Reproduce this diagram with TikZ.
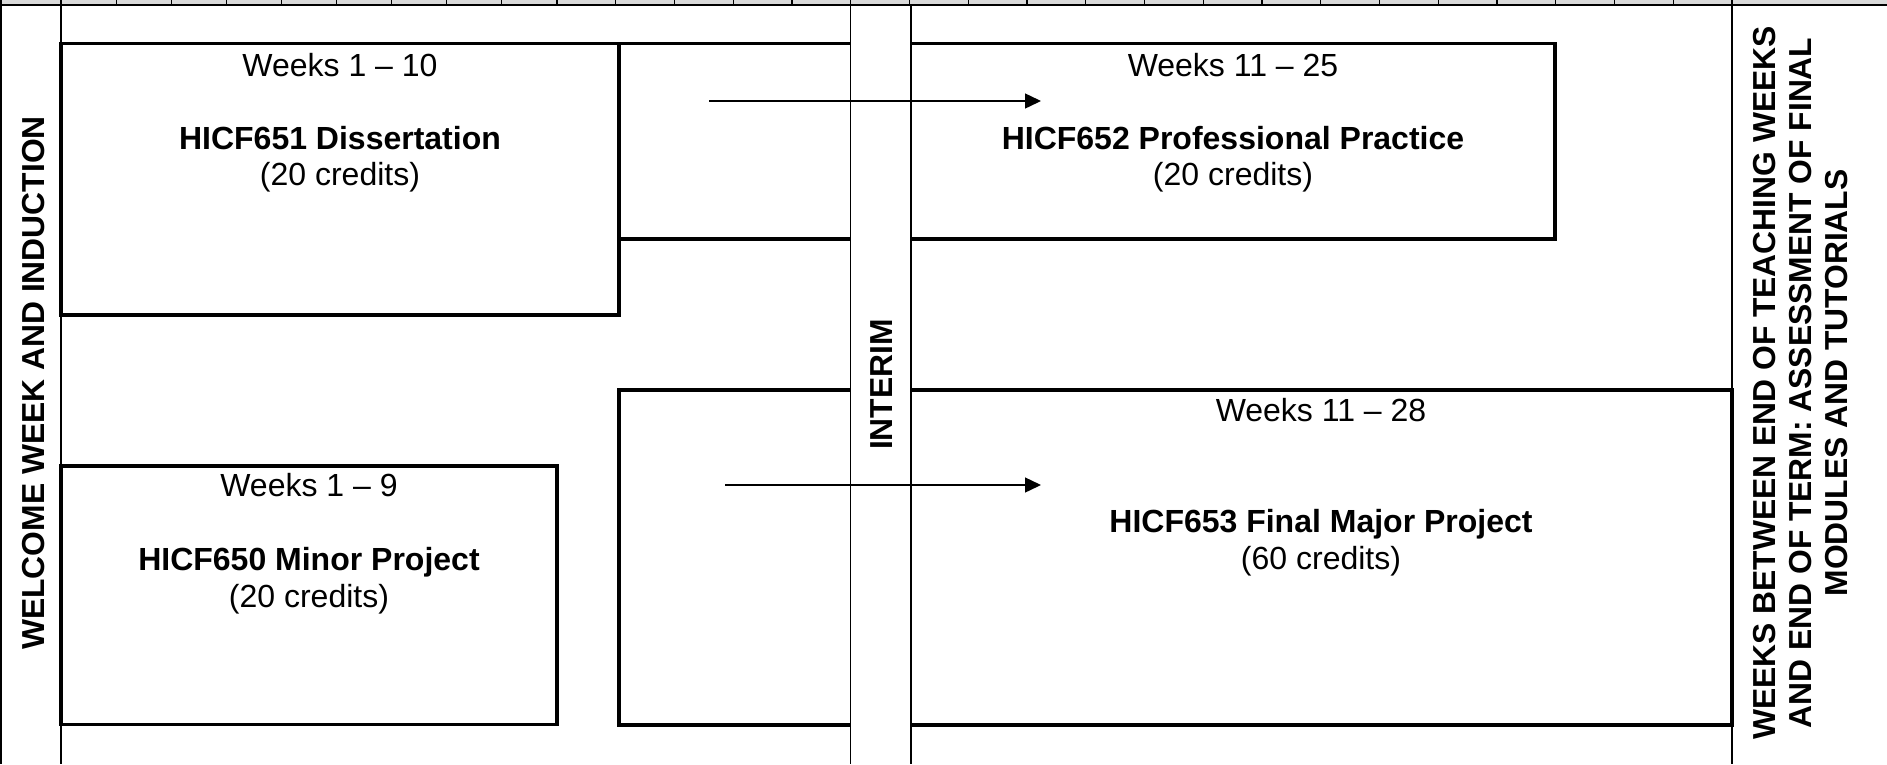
\documentclass[tikz,border=0pt]{standalone}
\usepackage{fontspec}
\setmainfont{Liberation Sans}
\usetikzlibrary{arrows.meta}
\definecolor{rulergrey}{RGB}{217,217,217}
\begin{document}
\begin{tikzpicture}[x=1pt,y=-1pt,
  thickln/.style={line width=3.3pt},
  thinln/.style={line width=1.5pt},
  tickln/.style={line width=1.1pt},
  lbl/.style={inner sep=0pt, anchor=base, font=\fontsize{32}{36}\selectfont},
  ttl/.style={lbl, font=\fontsize{32}{36}\selectfont\bfseries},
  vlbl/.style={inner sep=0pt, rotate=90, align=center, font=\fontsize{31.8}{36}\selectfont\bfseries},
  arr/.style={line width=1.4pt, -{Triangle[length=16pt,width=15pt]}}
]
\useasboundingbox (0,0) rectangle (1887,764);
% ruler strip
\fill[rulergrey] (0,0) rectangle (1887,4.5);
\foreach \k in {0,...,9} \draw[tickln] (61+55.111*\k,0) -- ++(0,5);
\foreach \k in {1,...,20} \draw[tickln] (557+58.75*\k,0) -- ++(0,5);
\draw[tickln] (1,0) -- (1,5);
\draw[thinln] (0,5) -- (1887,5);
% column lines
\draw[thinln] (1,5) -- (1,764);
\draw[thinln] (61,5) -- (61,764);
\draw[thinln] (850.5,5) -- (850.5,764);
\draw[thinln] (911,5) -- (911,764);
\draw[thinln] (1732,5) -- (1732,764);
% HICF651 box
\draw[thickln] (61,43.5) rectangle (619,315);
% HICF650 box
\draw[thickln] (61,466) rectangle (557,724.5);
% HICF652 shape (broken by the interim column)
\draw[thickln] (619,43.5) -- (850.5,43.5);
\draw[thickln] (619,239) -- (850.5,239);
\draw[thickln] (911,43.5) -| (1555,239) -- (911,239);
% HICF653 shape
\draw[thickln] (850.5,390) -| (619,725) -- (850.5,725);
\draw[thickln] (911,390) -| (1732,725) -- (911,725);
% texts in boxes
\node[lbl] (w651) at (340,76) {Weeks 1 – 10};
\node[ttl] (t651) at (340,149) {HICF651 Dissertation};
\node[lbl] (c651) at (340,185) {(20 credits)};
\node[lbl] (w652) at (1233,76) {Weeks 11 – 25};
\node[ttl] (t652) at (1233,149) {HICF652 Professional Practice};
\node[lbl] (c652) at (1233,185) {(20 credits)};
\node[lbl] (w650) at (309,496) {Weeks 1 – 9};
\node[ttl] (t650) at (309,570.5) {HICF650 Minor Project};
\node[lbl] (c650) at (309,607.5) {(20 credits)};
\node[lbl] (w653) at (1321,421) {Weeks 11 – 28};
\node[ttl] (t653) at (1321,532) {HICF653 Final Major Project};
\node[lbl] (c653) at (1321,569) {(60 credits)};
% rotated labels
\node[vlbl] (welcome) at (34,383) {WELCOME WEEK AND INDUCTION};
\node[vlbl] (interim) at (882,384.5) {INTERIM};
\node[vlbl] (endterm) at (1801,383) {WEEKS BETWEEN END OF TEACHING WEEKS\\AND END OF TERM: ASSESSMENT OF FINAL\\MODULES AND TUTORIALS};
% arrows
\coordinate (a1s) at (709,101);
\coordinate (a1e) at (1041,101);
\coordinate (a2s) at (725,485);
\coordinate (a2e) at (1041,485);
\draw[arr] (a1s) -- (a1e);
\draw[arr] (a2s) -- (a2e);
\end{tikzpicture}
\end{document}
